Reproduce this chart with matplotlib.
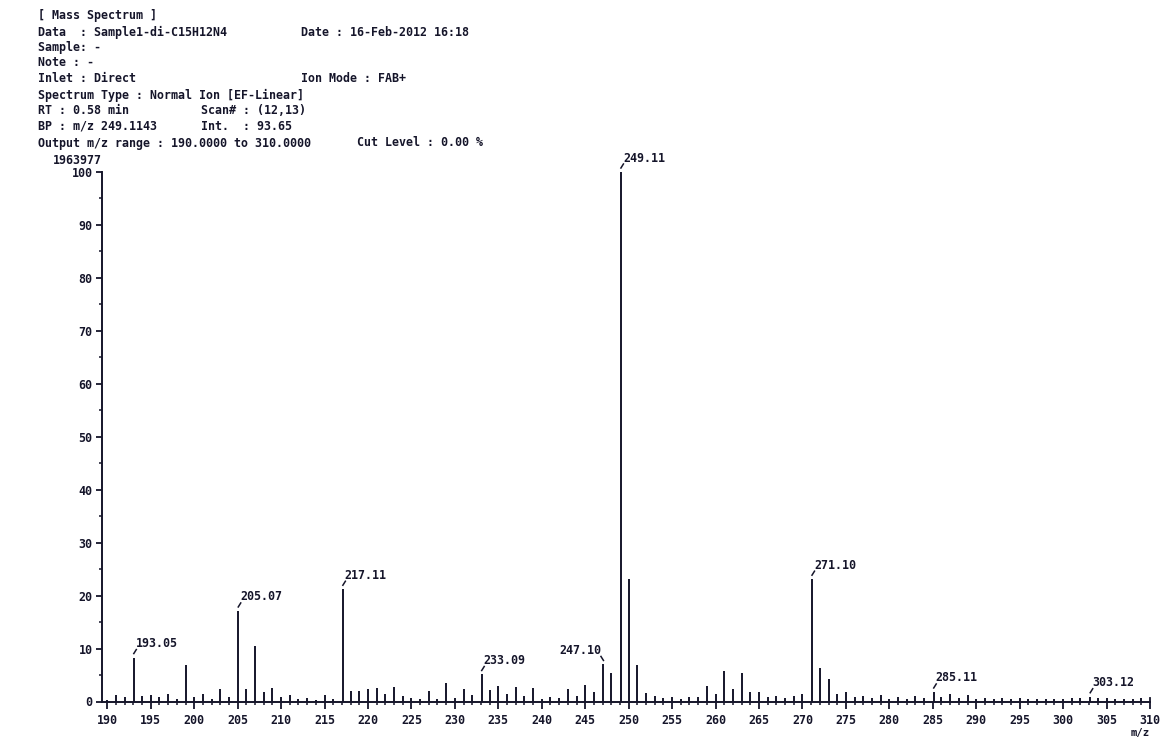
import matplotlib
matplotlib.use("Agg")
import matplotlib.pyplot as plt
from matplotlib.ticker import MultipleLocator
from matplotlib.transforms import offset_copy

# ---- spectrum data (nominal m/z, relative intensity %) ----
mz_nominal = list(range(190, 310))
rel_intensity = [
    0.3, 1.2, 0.9, 8.3, 1.1, 1.3, 0.9, 1.5, 0.5, 6.8,      # 190-199
    0.8, 1.5, 0.4, 2.4, 0.8, 17.1, 2.3, 10.5, 1.7, 2.6,    # 200-209
    0.8, 1.2, 0.4, 0.7, 0.3, 1.3, 0.5, 21.2, 2.0, 1.9,     # 210-219
    2.3, 2.6, 1.5, 2.8, 1.0, 0.6, 0.4, 2.0, 0.4, 3.4,      # 220-229
    0.7, 2.4, 1.2, 5.1, 2.2, 3.0, 1.4, 2.8, 1.0, 2.6,      # 230-239
    0.5, 0.9, 0.6, 2.3, 1.0, 3.1, 1.7, 7.0, 5.3, 100.0,    # 240-249
    23.1, 6.8, 1.6, 1.0, 0.7, 0.9, 0.5, 0.8, 0.9, 3.0,     # 250-259
    1.5, 5.8, 2.3, 5.3, 1.7, 1.8, 0.8, 1.0, 0.6, 1.0,      # 260-269
    1.4, 23.1, 6.3, 4.2, 1.5, 1.8, 0.9, 1.1, 0.7, 1.2,     # 270-279
    0.5, 0.9, 0.5, 1.0, 0.6, 1.8, 0.9, 1.5, 0.7, 1.3,      # 280-289
    0.5, 0.7, 0.5, 0.6, 0.5, 0.6, 0.4, 0.5, 0.4, 0.5,      # 290-299
    0.5, 0.6, 0.7, 0.9, 0.7, 0.6, 0.5, 0.5, 0.4, 0.6,      # 300-309
]

# accurate masses of the annotated peaks and the side of their labels
labelled_mz = [193.05, 205.07, 217.11, 233.09, 247.10, 249.11, 271.10, 285.11, 303.12]
label_side = ["right", "right", "right", "right", "left", "right", "right", "right", "right"]

x_ticks = list(range(190, 311, 5))
y_ticks = list(range(0, 101, 10))

header_lines = [
    (38, 16, "[ Mass Spectrum ]"),
    (38, 32, "Data  : Sample1-di-C15H12N4"),
    (301, 32, "Date : 16-Feb-2012 16:18"),
    (38, 48, "Sample: -"),
    (38, 63, "Note : -"),
    (38, 79, "Inlet : Direct"),
    (301, 79, "Ion Mode : FAB+"),
    (38, 95, "Spectrum Type : Normal Ion [EF-Linear]"),
    (38, 110, "RT : 0.58 min"),
    (201, 110, "Scan# : (12,13)"),
    (38, 126, "BP : m/z 249.1143"),
    (201, 126, "Int.  : 93.65"),
    (38, 143, "Output m/z range : 190.0000 to 310.0000"),
    (357, 143, "Cut Level : 0.00 %"),
]
base_peak_counts = "1963977"

# ---- drawing ----
W, H, DPI = 1164, 738, 100
INK = "#15152a"
MONO = "DejaVu Sans Mono"
FS = 8.4
WEIGHT = "bold"

plt.rcParams["font.family"] = MONO
plt.rcParams["font.weight"] = WEIGHT
fig = plt.figure(figsize=(W / DPI, H / DPI), dpi=DPI, facecolor="white")
ax = fig.add_axes([102 / W, 1 - 701.5 / H, 1048 / W, 529.5 / H])
ax.set_facecolor("none")

# replace nominal positions by accurate masses where a label gives one
positions = [float(m) for m in mz_nominal]
for m in labelled_mz:
    positions[mz_nominal.index(round(m))] = m

ax.vlines(positions, 0, rel_intensity, color=INK, linewidth=1.4, clip_on=False)

ax.set_xlim(189.39, 310)
ax.set_ylim(0, 100)

for side in ("top", "right"):
    ax.spines[side].set_visible(False)
for side in ("left", "bottom"):
    ax.spines[side].set_linewidth(1.4)
    ax.spines[side].set_color(INK)
ax.spines["left"].set_bounds(0, 100)

ax.set_xticks(x_ticks)
ax.set_xticklabels([str(t) for t in x_ticks])
ax.xaxis.set_minor_locator(MultipleLocator(1))
ax.set_yticks(y_ticks)
ax.set_yticklabels([str(t) for t in y_ticks])
ax.yaxis.set_minor_locator(MultipleLocator(5))

ax.tick_params(axis="x", which="major", length=5, width=1.3, pad=4,
               colors=INK, labelsize=FS)
ax.tick_params(axis="x", which="minor", length=1.8, width=1.1, colors=INK)
ax.tick_params(axis="y", which="major", length=4.3, width=1.3, pad=2.5,
               colors=INK, labelsize=FS)
ax.tick_params(axis="y", which="minor", length=2.2, width=1.1, colors=INK)

# end mark of the m/z axis
ax.plot([310, 310], [0, 0.6], color=INK, linewidth=1.3, clip_on=False)

# peak labels with their small leader marks
for m, side in zip(labelled_mz, label_side):
    h = rel_intensity[mz_nominal.index(round(m))]
    sgn = 1 if side == "right" else -1
    t0 = offset_copy(ax.transData, fig=fig, x=0, y=4, units="dots")
    t1 = offset_copy(ax.transData, fig=fig, x=2.5 * sgn, y=8, units="dots")
    p0 = t0.transform((m, h))
    p1 = t1.transform((m, h))
    fig.add_artist(plt.Line2D([p0[0] / W, p1[0] / W], [p0[1] / H, p1[1] / H],
                              transform=fig.transFigure, color=INK, linewidth=1.1))
    tt = offset_copy(ax.transData, fig=fig, x=2 * sgn, y=14, units="dots")
    ax.text(m, h, f"{m:.2f}", transform=tt, ha="left" if sgn > 0 else "right",
            va="center", fontsize=FS, color=INK, clip_on=False)

# header block
for x, y, s in header_lines:
    fig.text(x / W, 1 - y / H, s, ha="left", va="center", fontsize=FS, color=INK)

fig.text(102 / W, 1 - 160 / H, base_peak_counts, ha="right", va="center",
         fontsize=FS, color=INK)
fig.text(1140 / W, 1 - 733 / H, "m/z", ha="center", va="center",
         fontsize=FS * 0.9, color=INK)

fig.savefig("out.png", dpi=DPI, facecolor="white")
